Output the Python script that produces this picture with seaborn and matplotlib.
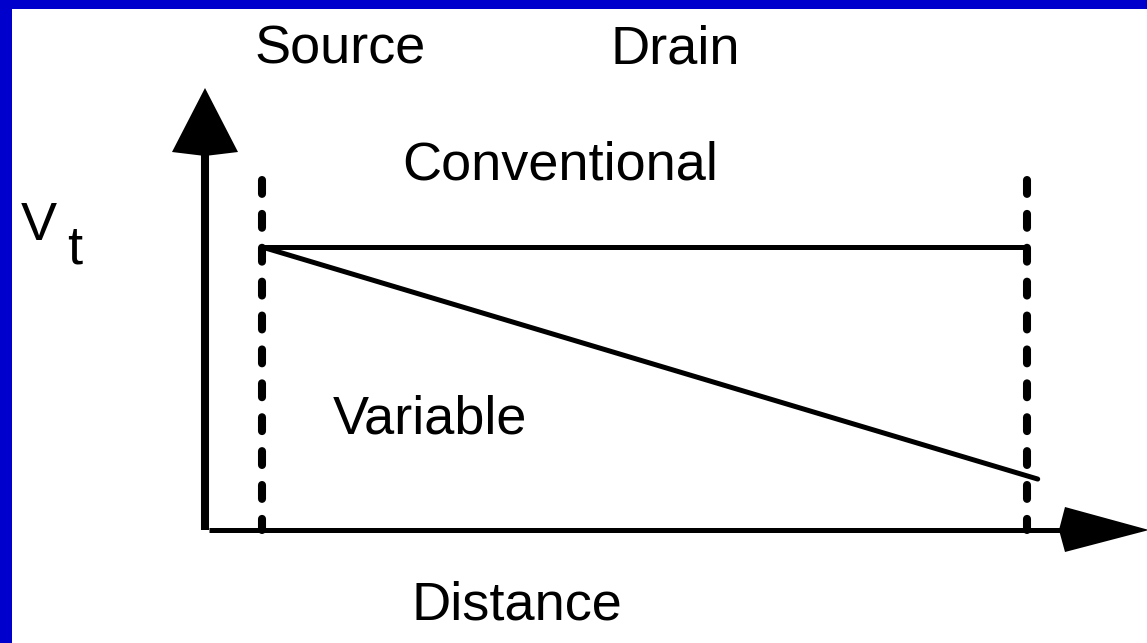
import numpy as np
import pandas as pd
import matplotlib
matplotlib.use('Agg')
import matplotlib.pyplot as plt
import seaborn as sns
from matplotlib.patches import Polygon

sns.set_theme(style='white')
plt.rcParams['font.family'] = ['Liberation Sans', 'DejaVu Sans']
plt.rcParams['text.color'] = 'black'
plt.rcParams['lines.scale_dashes'] = False

# threshold voltage along the channel (distance: source = 0, drain = 1)
distance_conv = [0.0, 1.0]
vt_conv = [1.0, 1.0]
distance_var = [0.0, 1.014]
vt_var = [1.0, 0.18]
edge_positions = [0.0, 1.0]          # source / drain boundaries
edge_labels = ['Source', 'Drain']

W, H = 1147, 643
# pixel <-> data mapping (source at x=262px, drain at 1027px, Vt=0 at 530px, Vt=1 at 247px)
X0, X1, Y0, Y1 = 262, 1027, 530, 247


def px(x, y):
    return (x - X0) / (X1 - X0), (Y0 - y) / (Y0 - Y1)


fig = plt.figure(figsize=(W / 100, H / 100), dpi=100, facecolor='#0000CC')
ax = fig.add_axes([12 / W, 0, (W - 12) / W, (H - 9) / H])
ax.set_facecolor('white')
left, bottom = px(12, H)
right, top = px(W, 9)
ax.set_xlim(left, right)
ax.set_ylim(bottom, top)
ax.set_xticks([])
ax.set_yticks([])
sns.despine(ax=ax, left=True, bottom=True)

df_conv = pd.DataFrame({'distance': distance_conv, 'vt': vt_conv})
df_var = pd.DataFrame({'distance': distance_var, 'vt': vt_var})
sns.lineplot(data=df_conv, x='distance', y='vt', color='black', linewidth=3.6, ax=ax,
             solid_capstyle='butt')
sns.lineplot(data=df_var, x='distance', y='vt', color='black', linewidth=3.6, ax=ax,
             solid_capstyle='round')
ax.set_xlabel('')
ax.set_ylabel('')

# source / drain dashed boundaries
top_dash = px(0, 180)[1]
for xe in edge_positions:
    ax.plot([xe, xe], [top_dash, 0], color='black', linewidth=5.8,
            linestyle=(0, (10, 14.4)), dash_capstyle='round')

# axes with arrowheads
xa = px(205, 0)[0]
ax.plot([xa, xa], [0, px(0, 150)[1]], color='black', linewidth=5.8, solid_capstyle='butt')
ax.plot([px(209, 0)[0], px(1062, 0)[0]], [0, 0], color='black', linewidth=3.6,
        solid_capstyle='butt')
up_head = [px(205, 88), px(238, 152), px(205, 156), px(172, 152)]
right_head = [px(1149, 530), px(1065, 552), px(1059, 530), px(1065, 507)]
for pts in (up_head, right_head):
    ax.add_patch(Polygon(pts, closed=True, facecolor='black', edgecolor='none', clip_on=False))

# labels
fs = 39
kw = dict(fontsize=fs, ha='center', va='baseline', color='black')
for lab, cx in zip(edge_labels, [340, 675]):
    ax.text(*px(cx, 64), lab, **kw)
ax.text(*px(560, 180), 'Conventional', **kw)
ax.text(*px(430, 434), 'Variable', **kw)
ax.text(*px(517, 620), 'Distance', **kw)
ax.text(*px(39, 240), 'V', **kw)
ax.text(*px(75, 263), 't', **kw)

fig.savefig('out.png', dpi=100, facecolor=fig.get_facecolor())
